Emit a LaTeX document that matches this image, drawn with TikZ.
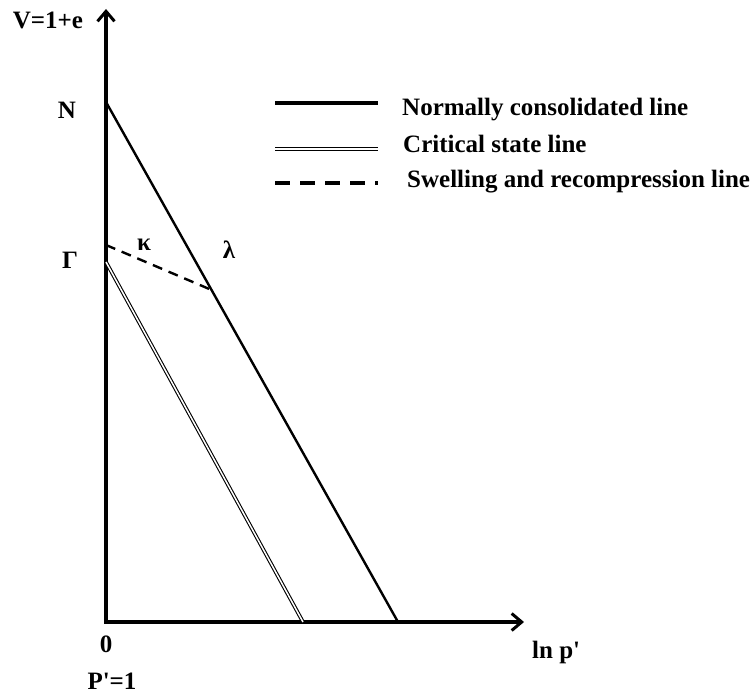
\documentclass[tikz,border=0pt]{standalone}
\usepackage{fontspec}
\setmainfont{Liberation Serif}
\usetikzlibrary{arrows.meta,positioning,calc}

\begin{document}
\begin{tikzpicture}[
  % --- global style (1 unit = 1 px, y down) ---
  x=1pt, y=-1pt,
  every node/.style={font=\fontsize{25}{29}\selectfont\bfseries, inner sep=0pt},
  lbl/.style={anchor=base},
  legtext/.style={anchor=base west},
  axis/.style={line width=3.6pt, line join=miter,
    {Straight Barb[length=10pt,width=17pt,line width=3pt]}-{Straight Barb[length=10pt,width=17pt,line width=3pt]}},
  ncl/.style={line width=2.4pt},
  legncl/.style={line width=4pt},
  csl/.style={double, line width=1.1pt, double distance=1.5pt},
  swl/.style={dashed, line width=2.4pt, dash pattern=on 10pt off 7pt},
  legswl/.style={line width=3.4pt, dash pattern=on 15pt off 10pt},
]
\useasboundingbox (0,0) rectangle (754,693);

% ====== Axes ======
\coordinate (O) at (106,622);
\coordinate (ytop) at (106,9);
\coordinate (xend) at (524,622);
\draw[axis] (ytop) -- (O) -- (xend);

% ====== Lines ======
\coordinate (nstart) at (106,102);
\coordinate (nend) at (398,622);
\coordinate (gstart) at (106,262);
\coordinate (gend) at (303,622);
\coordinate (kstart) at (106,245);
\coordinate (kend) at ($(nstart)!0.3615!(nend)$);

\draw[ncl] (nstart) -- (nend);
\draw[csl] (gstart) -- (gend);
\draw[swl] (kstart) -- (kend);

% ====== Labels ======
\node[lbl] (vlab) at (48,29) {V=1+e};
\node[lbl] (nlab) at (67,118) {N};
\node[lbl] (glab) at (70,268) {Γ};
\node[lbl] (klab) at (144,250) {κ};
\node[lbl] (llab) at (229,258) {λ};
\node[lbl] (zlab) at (106,652) {0};
\node[lbl] (plab) at (112,689) {P\textquotesingle=1};
\node[legtext] (xlab) at (532,658) {ln p\textquotesingle};

% ====== Legend ======
\coordinate (l1a) at (275,103);
\coordinate (l1b) at (378,103);
\coordinate (l2a) at (275,149);
\coordinate (l2b) at (378,149);
\coordinate (l3a) at (275,183);
\coordinate (l3b) at (378,183);
\draw[legncl] (l1a) -- (l1b);
\draw[csl] (l2a) -- (l2b);
\draw[legswl] (l3a) -- (l3b);
\node[legtext] (t1) at (402,115) {Normally consolidated line};
\node[legtext] (t2) at (403,152) {Critical state line};
\node[legtext] (t3) at (407,187) {Swelling and recompression line};

\end{tikzpicture}
\end{document}
